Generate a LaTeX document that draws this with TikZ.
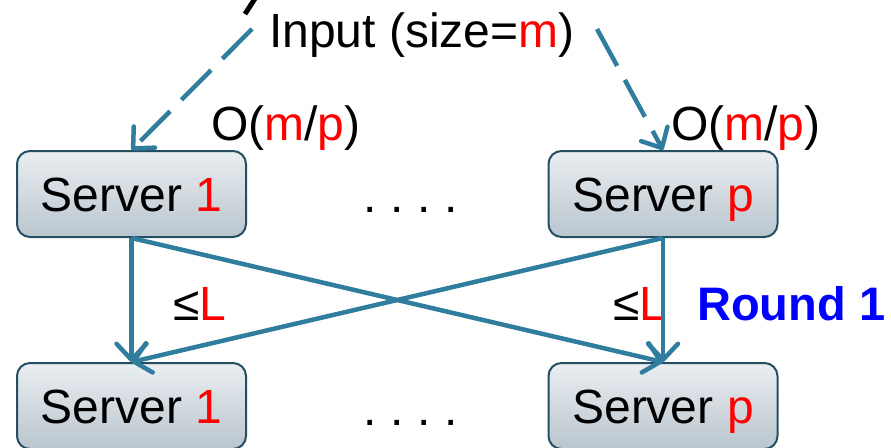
\documentclass[tikz,border=0pt]{standalone}
\usepackage{fontspec}
\setmainfont{Liberation Sans}
\usetikzlibrary{arrows.meta}
\definecolor{edgeblue}{RGB}{49,125,158}
\definecolor{boxtop}{RGB}{234,238,241}
\definecolor{boxbot}{RGB}{186,197,206}
\definecolor{boxline}{RGB}{38,78,98}
\newcommand{\mydot}{\makebox[27pt][l]{.}}
\tikzset{
  server/.style={draw=boxline, line width=2pt, rounded corners=13pt,
    top color=boxtop, bottom color=boxbot, minimum width=229pt, minimum height=86pt,
    inner sep=0pt, text height=35pt, text depth=0pt, font=\fontsize{48}{56}\selectfont},
  lbl/.style={inner sep=0pt, anchor=base west, font=\fontsize{48}{56}\selectfont},
  flow/.style={draw=edgeblue, line width=4.5pt, -{Straight Barb[length=16pt,width=30pt,line cap=round,line join=round]}},
  dashflow/.style={flow, dash pattern=on 42pt off 16pt}
}
\begin{document}
\begin{tikzpicture}[x=1pt,y=-1pt]
\useasboundingbox (0,0) rectangle (891,447);
\node[server] (s1) at (131.5,194) {Server \textcolor{red}{1}};
\node[server] (sp) at (663,194) {Server \textcolor{red}{p}};
\node[server] (b1) at (131.5,406) {Server \textcolor{red}{1}};
\node[server] (bp) at (663,406) {Server \textcolor{red}{p}};
\node[lbl] (inp) at (269,47) {Input (size=\textcolor{red}{m})};
\node[lbl] (o1) at (211,140) {O(\textcolor{red}{m}/\textcolor{red}{p})};
\node[lbl] (op) at (671,140) {O(\textcolor{red}{m}/\textcolor{red}{p})};
\node[lbl] (l1) at (173,320) {≤\textcolor{red}{L}};
\node[lbl] (lp) at (613,320) {≤\textcolor{red}{L}};
\node[lbl, font=\fontsize{47}{56}\selectfont\bfseries, text=blue] (r1) at (697,320) {Round 1};
\node[lbl] (d1) at (363,212) {\mydot\mydot\mydot.};
\node[lbl] (d2) at (363,425) {\mydot\mydot\mydot.};
\coordinate (ia) at (252,29);
\coordinate (ib) at (597,29);
\coordinate (ta) at (245,14);
\coordinate (tb) at (256,-3);
\draw[line width=5pt, black] (ta) -- (tb);
\draw[dashflow] (ia) -- (s1.north);
\draw[dashflow] (ib) -- (sp.north);
\draw[flow] (s1.south) -- (b1.north);
\draw[flow] (s1.south) -- (bp.north);
\draw[flow] (sp.south) -- (b1.north);
\draw[flow] (sp.south) -- (bp.north);
\end{tikzpicture}
\end{document}
